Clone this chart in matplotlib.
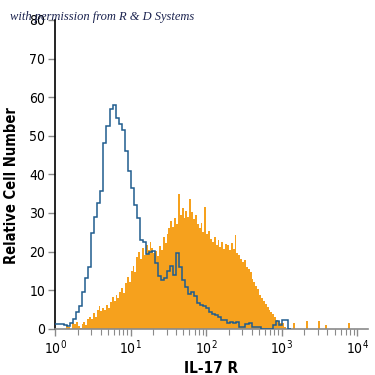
import numpy as np
import matplotlib
matplotlib.use("Agg")
import matplotlib.pyplot as plt
from matplotlib.ticker import LogLocator, LogFormatterMathtext, NullFormatter

ORANGE = "#f6a11d"
BLUE = "#1f5c8e"
GRAY = "#8a8a8a"

# isotype control (blue outline), bins of 0.04 decades starting at 10^0
blue_bin_width = 0.04
blue_counts = [
    1.3, 1.3, 1.3, 1.1, 0.8, 1.6, 2.6, 4.4, 6.0, 9.6,
    13.2, 16.0, 24.8, 29.0, 32.6, 35.6, 48.0, 52.4, 56.8, 58.0,
    54.6, 53.0, 51.6, 46.0, 41.0, 36.4, 32.2, 28.6, 23.0, 22.6,
    19.4, 19.8, 20.2, 17.0, 13.6, 12.6, 13.2, 15.0, 16.4, 14.0,
    19.6, 16.0, 12.6, 10.8, 9.0, 9.6, 8.4, 6.6, 6.2, 5.8,
    5.4, 4.4, 3.8, 3.6, 3.0, 2.4, 2.2, 1.6, 1.8, 1.4,
    1.8, 0.6, 0.6, 1.2, 1.6, 0.6, 0.4, 0.5, 0.0, 0.0,
    0.0, 0.0, 1.0, 2.0, 1.0, 2.2, 2.2, 0.0,
]

# IL-17 R stained cells (orange fill), bins of 0.025 decades starting at 10^0
orange_bin_width = 0.025
orange_counts = [
    0.0, 0.0, 0.0, 0.0,
    0.0, 0.0, 0.8, 0.5, 0.0, 1.5, 1.2, 1.8, 0.8, 0.3,
    1.2, 1.8, 1.0, 2.5, 3.2, 2.6, 4.0, 3.2, 4.8, 5.8,
    4.6, 5.5, 4.9, 6.3, 5.4, 7.0, 8.2, 7.1, 8.8, 8.0,
    9.6, 10.5, 9.4, 11.8, 13.4, 12.2, 15.0, 16.2, 14.8, 18.6,
    19.8, 18.0, 21.0, 19.2, 21.8, 20.4, 22.6, 21.0, 19.6, 20.2,
    18.8, 21.4, 20.5, 23.8, 22.2, 24.6, 26.0, 27.8, 26.4, 28.8,
    27.2, 35.0, 29.4, 31.2, 28.6, 30.4, 29.0, 33.6, 30.2, 28.4,
    29.6, 27.2, 26.0, 27.4, 25.2, 31.6, 24.6, 25.4, 23.2, 22.6,
    23.8, 21.6, 23.0, 21.2, 22.4, 20.8, 22.0, 21.6, 20.4, 22.2,
    20.6, 24.4, 19.6, 19.0, 18.2, 17.4, 17.8, 16.0, 15.4, 14.6,
    13.0, 12.2, 11.0, 10.2, 8.8, 8.0, 7.2, 6.4, 5.6, 4.8,
    4.4, 3.8, 3.2, 2.4, 2.0, 1.6, 1.4, 0.6,
    0.0, 0.0, 0.0, 0.0, 1.4, 0.0, 0.0, 0.0, 0.0, 0.0,
    0.0, 2.0, 0.0, 0.0, 0.0, 0.0, 0.0, 2.0, 0.0, 0.0,
    0.0, 1.0, 0.0, 0.0, 0.0, 0.0, 0.0, 0.0, 0.0, 0.0,
    0.0, 0.0, 0.0, 1.5, 0.0, 0.0, 0.0, 0.0,
]

y_ticks = [0, 10, 20, 30, 40, 50, 60, 70, 80]

blue_edges = 10 ** (np.arange(len(blue_counts) + 1) * blue_bin_width)
orange_edges = 10 ** (np.arange(len(orange_counts) + 1) * orange_bin_width)

plt.rcParams["font.family"] = ["DejaVu Sans"]
plt.rcParams["font.stretch"] = "condensed"
plt.rcParams["mathtext.fontset"] = "custom"
plt.rcParams["mathtext.rm"] = "DejaVu Sans:stretch=condensed"
plt.rcParams["mathtext.it"] = "DejaVu Sans:stretch=condensed"

fig = plt.figure(figsize=(3.75, 3.75), dpi=100)
ax = fig.add_axes([0.147, 0.123, 0.834, 0.824])

ax.stairs(orange_counts, orange_edges, fill=True, color=ORANGE, linewidth=0, zorder=2)
ax.stairs(blue_counts, blue_edges, baseline=None, color=BLUE, linewidth=1.1, zorder=3)

ax.set_xscale("log")
ax.set_xlim(1, 10 ** 4.14)
ax.set_ylim(0, 80)

ax.xaxis.set_major_locator(LogLocator(base=10, numticks=10))
ax.xaxis.set_major_formatter(LogFormatterMathtext())
ax.xaxis.set_minor_locator(LogLocator(base=10, subs=np.arange(2, 10), numticks=20))
ax.xaxis.set_minor_formatter(NullFormatter())
ax.set_yticks(y_ticks)

for side in ["top", "right"]:
    ax.spines[side].set_visible(False)
ax.spines["left"].set_color("black")
ax.spines["left"].set_linewidth(1.2)
ax.spines["bottom"].set_color(GRAY)
ax.spines["bottom"].set_linewidth(1.2)

ax.tick_params(axis="both", which="major", direction="out", length=5, width=1,
               color=GRAY, labelsize=10, pad=2)
ax.tick_params(axis="x", which="minor", direction="out", length=4, width=0.8, color=GRAY)

ax.set_xlabel("IL-17 R", fontsize=11, fontweight="bold", labelpad=3)
fig.text(0.032, 0.505, "Relative Cell Number", rotation=90, ha="center", va="center",
         fontsize=10.5, fontweight="bold")

fig.text(0.027, 0.955, "with permission from R & D Systems", ha="left", va="center",
         fontsize=9, style="italic", family=["Liberation Serif", "DejaVu Serif"],
         color="#1c2450", zorder=5)

fig.savefig("out.png", dpi=100)
